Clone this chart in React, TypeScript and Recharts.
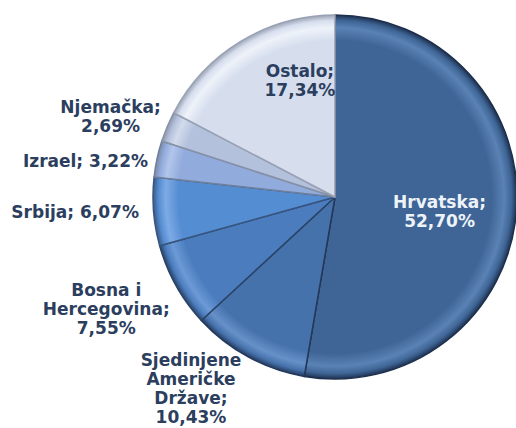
import React from "react";
import { PieChart, Pie, Cell } from "recharts";

const categories = [
  "Hrvatska",
  "Sjedinjene Američke Države",
  "Bosna i Hercegovina",
  "Srbija",
  "Izrael",
  "Njemačka",
  "Ostalo",
];
const shares = [52.7, 10.43, 7.55, 6.07, 3.22, 2.69, 17.34];
const labelLines = [
  ["Hrvatska;", "52,70%"],
  ["Sjedinjene", "Američke", "Države;", "10,43%"],
  ["Bosna i", "Hercegovina;", "7,55%"],
  ["Srbija; 6,07%"],
  ["Izrael; 3,22%"],
  ["Njemačka;", "2,69%"],
  ["Ostalo;", "17,34%"],
];

const data = categories.map((name, i) => ({ name, value: shares[i] }));

const fills = ["#3e6595", "#4672ac", "#4b7dbe", "#558dd2", "#91abdc", "#b4c1dc", "#d6deee"];
const rims = ["#5a82b4", "#6690c8", "#6c9ad6", "#7eaae6", "#b2c6ea", "#d2dbec", "#eef2f9"];
const edges = ["#1e3150", "#23395c", "#2a4266", "#3a5a86", "#7d8ba6", "#8d97aa", "#9aa3b3"];
const strokes = ["#1d2f4c", "#23385a", "#2b4468", "#37557f", "#6f7f9c", "#8892a6", "#99a2b4"];

// label placement: distance factor (× outerRadius) and angle nudge (deg)
const labelDist = [0.58, 1.315, 1.4, 1.43, 1.385, 1.31, 0.67];
const labelNudge = [-3, -8.5, -3, -1.3, 3.9, 3, -14.5];
const labelColors = ["#eef3fa", "#2c3e5e", "#2c3e5e", "#2c3e5e", "#2c3e5e", "#2c3e5e", "#2c3e5e"];

const RAD = Math.PI / 180;
const CX = 335;
const CY = 197;
const R = 182;

const renderLabel = (props: any) => {
  const { cx, cy, midAngle, outerRadius, index } = props;
  const a = (midAngle + labelNudge[index]) * RAD;
  const d = outerRadius * labelDist[index];
  const x = cx + d * Math.cos(-a);
  const y = cy + d * Math.sin(-a);
  const lines = labelLines[index];
  const lh = 19;
  const y0 = y - ((lines.length - 1) * lh) / 2;
  return (
    <text
      x={x}
      y={y0}
      textAnchor="middle"
      dominantBaseline="central"
      fill={labelColors[index]}
      fontFamily="DejaVu Sans, Verdana, sans-serif"
      fontWeight="bold"
      fontSize={17}
    >
      {lines.map((l, i) => (
        <tspan key={i} x={x} y={y0 + i * lh}>
          {l}
        </tspan>
      ))}
    </text>
  );
};

export default function App() {
  return (
    <div style={{ position: "absolute", left: 0, top: 0, width: 516, height: 428, background: "#fff" }}>
      <PieChart width={516} height={428} margin={{ top: 0, right: 0, bottom: 0, left: 0 }}>
        <defs>
          {fills.map((f, i) => (
            <radialGradient key={i} id={`g${i}`} gradientUnits="userSpaceOnUse" cx={CX} cy={CY} r={R}>
              <stop offset="0%" stopColor={f} />
              <stop offset="86%" stopColor={f} />
              <stop offset="93%" stopColor={rims[i]} />
              <stop offset="97%" stopColor={f} />
              <stop offset="100%" stopColor={edges[i]} />
            </radialGradient>
          ))}
        </defs>
        <Pie
          data={data}
          dataKey="value"
          nameKey="name"
          cx={CX}
          cy={CY}
          outerRadius={R}
          startAngle={90}
          endAngle={-270}
          isAnimationActive={false}
          labelLine={false}
          label={renderLabel}
        >
          {data.map((d, i) => (
            <Cell key={d.name} fill={`url(#g${i})`} stroke={strokes[i]} strokeWidth={1.5} />
          ))}
        </Pie>
      </PieChart>
    </div>
  );
}
